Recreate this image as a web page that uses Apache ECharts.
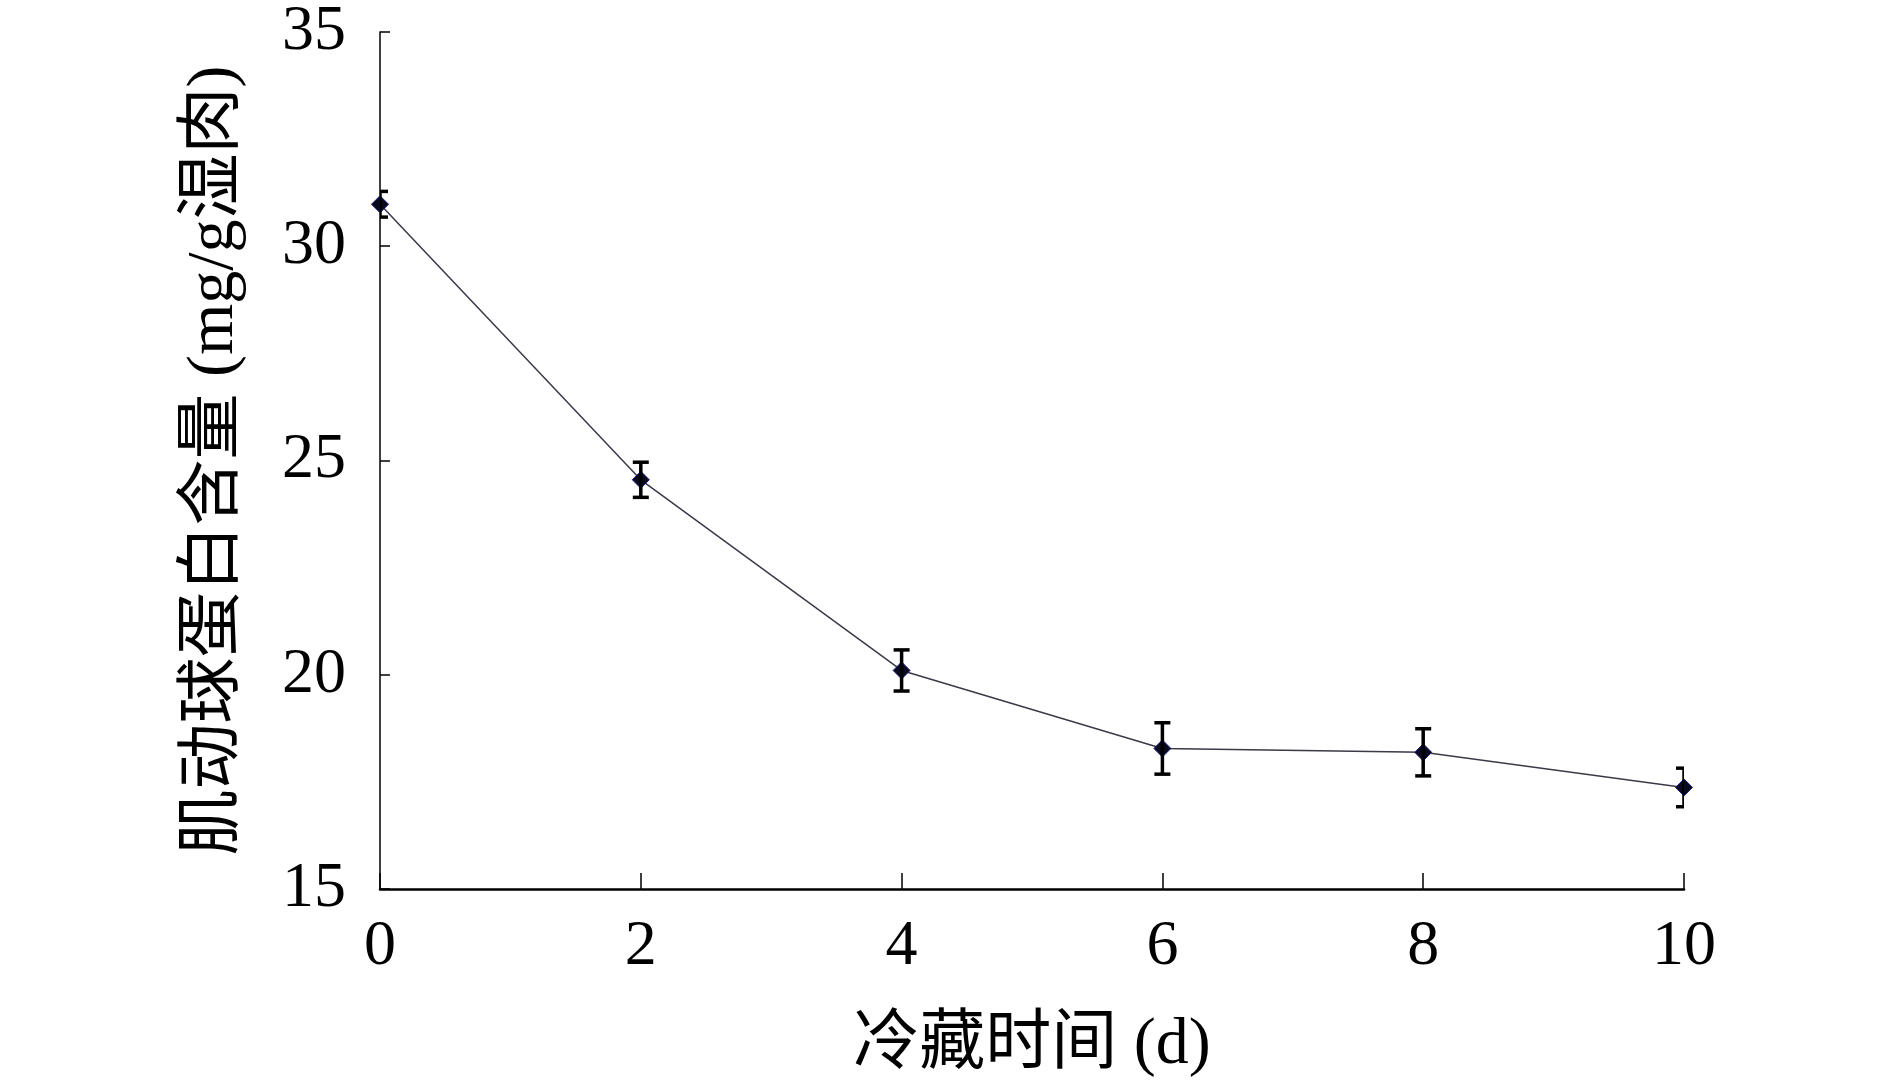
<!DOCTYPE html>
<html>
<head>
<meta charset="utf-8">
<script src="https://cdn.jsdelivr.net/npm/echarts@6/dist/echarts.min.js"></script>
<style>
html,body{margin:0;padding:0;background:#fff;}
#main{width:1890px;height:1084px;}
</style>
</head>
<body>
<div id="main"></div>
<script>
// Data
const days = [0, 2, 4, 6, 8, 10];
const actomyosin = [30.98, 24.55, 20.1, 18.28, 18.19, 17.37];
const errors = [0.3, 0.41, 0.48, 0.6, 0.55, 0.45];
const xTicks = [0, 2, 4, 6, 8, 10];
const yTicks = [15, 20, 25, 30, 35];
const xName = '冷藏时间 (d)';
const yName = '肌动球蛋白含量 (mg/g湿肉)';

const FONT = "'Liberation Serif', 'Noto Sans CJK SC', serif";

const chart = echarts.init(document.getElementById('main'), null, {renderer: 'canvas'});

const lineData = days.map((d, i) => [d, actomyosin[i]]);
const errData = days.map((d, i) => [d, actomyosin[i] - errors[i], actomyosin[i] + errors[i]]);

chart.setOption({
  backgroundColor: '#ffffff',
  animation: false,
  grid: {left: 380, right: 206, top: 29, bottom: 192, containLabel: false},
  xAxis: {
    type: 'value',
    min: xTicks[0], max: xTicks[xTicks.length - 1], interval: 2,
    name: xName, nameLocation: 'middle', nameGap: 124,
    nameTextStyle: {fontFamily: FONT, fontSize: 66, color: '#000'},
    axisLine: {show: true, lineStyle: {color: '#000', width: 2.5}},
    axisTick: {show: true, inside: true, length: 16, lineStyle: {color: '#000', width: 1.5}},
    axisLabel: {fontFamily: FONT, fontSize: 64, color: '#000', margin: 26},
    splitLine: {show: false}
  },
  yAxis: {
    type: 'value',
    min: yTicks[0], max: yTicks[yTicks.length - 1], interval: 5,
    name: yName, nameLocation: 'middle', nameGap: 132, nameRotate: 90,
    nameTextStyle: {fontFamily: FONT, fontSize: 66, color: '#000'},
    axisLine: {show: true, lineStyle: {color: '#000', width: 1.5}},
    axisTick: {show: true, inside: true, length: 10, lineStyle: {color: '#000', width: 1.5}},
    axisLabel: {fontFamily: FONT, fontSize: 64, color: '#000', margin: 34},
    splitLine: {show: false}
  },
  series: [
    {
      type: 'line',
      data: lineData,
      symbol: 'diamond',
      symbolSize: 17,
      itemStyle: {color: '#0a0a1e', borderColor: '#1a1a80', borderWidth: 1},
      lineStyle: {color: '#3a3a48', width: 1.5},
      z: 3
    },
    {
      type: 'custom',
      data: errData,
      clip: true,
      z: 4,
      renderItem: function (params, api) {
        const x = api.value(0);
        const lo = api.coord([x, api.value(1)]);
        const hi = api.coord([x, api.value(2)]);
        const hw = 8;
        const style = {stroke: '#000', lineWidth: 3.5};
        return {
          type: 'group',
          children: [
            {type: 'line', shape: {x1: lo[0], y1: lo[1], x2: hi[0], y2: hi[1]}, style: style},
            {type: 'line', shape: {x1: lo[0] - hw, y1: lo[1], x2: lo[0] + hw, y2: lo[1]}, style: style},
            {type: 'line', shape: {x1: hi[0] - hw, y1: hi[1], x2: hi[0] + hw, y2: hi[1]}, style: style}
          ]
        };
      }
    }
  ]
});
</script>
</body>
</html>
